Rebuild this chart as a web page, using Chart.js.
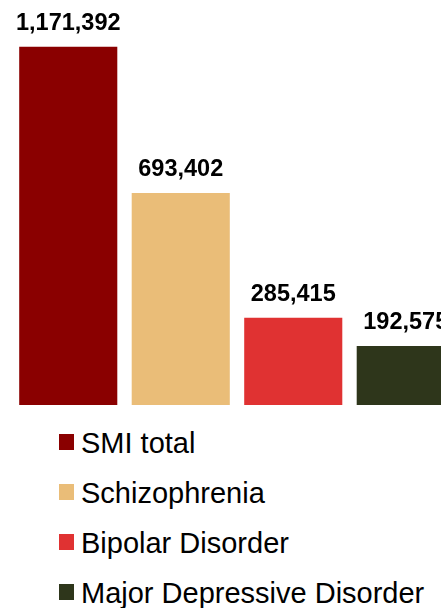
<!DOCTYPE html>
<html>
<head>
<meta charset="utf-8">
<script src="https://cdn.jsdelivr.net/npm/chart.js@4/dist/chart.umd.min.js"></script>
<style>
  html, body { margin: 0; padding: 0; background: #fff; overflow: hidden; width: 441px; height: 608px; }
  #wrap { position: absolute; left: 0; top: 0; width: 462px; height: 405px; }
  #legend { position: absolute; left: 59px; top: 418px; font-family: "Liberation Sans", Arial, sans-serif; font-size: 29px; color: #000; }
  .item { position: relative; height: 50px; width: 380px; }
  .box { position: absolute; left: 0; top: 16px; width: 15px; height: 16px; }
  .txt { position: absolute; left: 22px; top: 0; line-height: 50px; white-space: nowrap; }
</style>
</head>
<body>
<div id="wrap"><canvas id="barChart"></canvas></div>
<div id="legend"></div>
<script>
const categories = ['SMI total', 'Schizophrenia', 'Bipolar Disorder', 'Major Depressive Disorder'];
const patients = [1171392, 693402, 285415, 192575];
const colors = ['#8a0000', '#eabd78', '#e03232', '#2e361b'];

// numbers above bars
const valueLabels = {
  id: 'valueLabels',
  afterDatasetsDraw(chart) {
    const ctx = chart.ctx;
    ctx.save();
    ctx.font = 'bold 23.5px "Liberation Sans", Arial, sans-serif';
    ctx.fillStyle = '#000';
    ctx.textAlign = 'center';
    ctx.textBaseline = 'alphabetic';
    chart.getDatasetMeta(0).data.forEach((bar, i) => {
      ctx.fillText(patients[i].toLocaleString('en-US'), bar.x, bar.y - 17);
    });
    ctx.restore();
  }
};

new Chart(document.getElementById('barChart'), {
  type: 'bar',
  data: {
    labels: categories,
    datasets: [{
      data: patients,
      backgroundColor: colors,
      barPercentage: 0.872,
      categoryPercentage: 1.0
    }]
  },
  options: {
    responsive: true,
    maintainAspectRatio: false,
    animation: false,
    layout: { padding: { left: 12, right: 0, top: 0, bottom: 0 } },
    plugins: { legend: { display: false }, tooltip: { enabled: false } },
    scales: {
      x: { display: false },
      y: { display: false, min: 0, max: 1324000 }
    }
  },
  plugins: [valueLabels]
});

const legend = document.getElementById('legend');
categories.forEach((name, i) => {
  const row = document.createElement('div');
  row.className = 'item';
  row.innerHTML = '<span class="box" style="background:' + colors[i] + '"></span><span class="txt">' + name + '</span>';
  legend.appendChild(row);
});
</script>
</body>
</html>
